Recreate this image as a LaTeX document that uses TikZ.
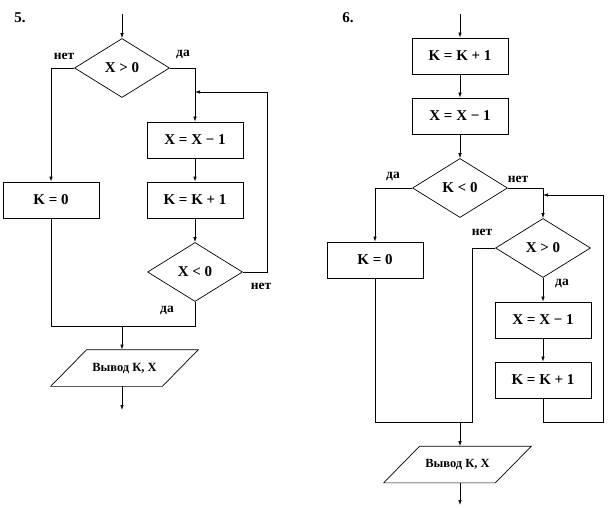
\documentclass[tikz,border=0pt]{standalone}
\usepackage{fontspec}
\setmainfont{Liberation Serif}
\usetikzlibrary{shapes.geometric,arrows.meta,positioning}

\begin{document}
\begin{tikzpicture}[x=1pt,y=-1pt,line width=0.7pt,>={Latex[length=5pt,width=3.5pt]},
   every node/.style={font=\bfseries},
   box/.style={draw,rectangle,minimum width=96pt,minimum height=36pt,inner sep=0pt,font=\fontsize{15}{17}\selectfont\bfseries},
   cond/.style={draw,diamond,aspect=1.6,minimum width=95pt,minimum height=59pt,inner sep=0pt,font=\fontsize{15}{17}\selectfont\bfseries},
   io/.style={rectangle,minimum width=111pt,minimum height=36pt,inner sep=0pt,font=\fontsize{12.5}{14}\selectfont\bfseries},
   lbl/.style={font=\fontsize{13.5}{15}\selectfont\bfseries,inner sep=0pt},
   title/.style={font=\fontsize{15}{17}\selectfont\bfseries,inner sep=0pt}]
   \useasboundingbox (0,0) rectangle (615,508);

   \node[title] (t5) at (20,18) {5.};
   \coordinate (s1) at (122,14);
   \node[cond] (d1) at (122,68) {X > 0};
   \node[box] (k0) at (51,200) {K = 0};
   \node[box] (x1) at (195,140) {X = X − 1};
   \node[box] (k1) at (195,200) {K = K + 1};
   \node[cond] (d2) at (195,272) {X < 0};
   \coordinate (l1) at (195,92);
   \coordinate (m1) at (122,326);
   \node[io] (o1) at (124.5,368) {Вывод К, Х};
   \draw ([xshift=-18pt]o1.south west) -- ([xshift=18pt]o1.north west) -- ([xshift=18pt]o1.north east) -- ([xshift=-18pt]o1.south east) -- cycle;
   \coordinate (e1) at (122,410);
   \node[lbl] (n1) at (64,56) {нет};
   \node[lbl] (y1) at (183,55) {да};
   \node[lbl] (n2) at (261,286) {нет};
   \node[lbl] (y2) at (167,311) {да};

   \draw[->] (s1) -- (d1);
   \draw[->] (d1.west) -| (k0.north);
   \draw[->] (d1.east) -| (x1.north);
   \draw[->] (x1) -- (k1);
   \draw[->] (k1) -- (d2);
   \draw[->] (d2.east) -- ++(24,0) |- (l1);
   \draw (d2.south) |- (m1);
   \draw (k0.south) |- (m1);
   \draw[->] (m1) -- (m1 |- o1.north);
   \draw[->] (o1.south -| m1) -- (e1);

   \node[title] (t6) at (348,18) {6.};
   \coordinate (s2) at (460,14);
   \node[box] (b1) at (460,56) {K = K + 1};
   \node[box] (b2) at (460,116) {X = X − 1};
   \node[cond] (d3) at (460,188) {K < 0};
   \node[box] (b3) at (375,260) {K = 0};
   \node[cond] (d4) at (543,248) {X > 0};
   \node[box] (b4) at (543,320) {X = X − 1};
   \node[box] (b5) at (543,380) {K = K + 1};
   \coordinate (l2) at (543,195);
   \coordinate (m2) at (460,422);
   \node[io] (o2) at (457.5,464.5) {Вывод К, Х};
   \draw ([xshift=-18pt]o2.south west) -- ([xshift=18pt]o2.north west) -- ([xshift=18pt]o2.north east) -- ([xshift=-18pt]o2.south east) -- cycle;
   \coordinate (e2) at (460,505);
   \node[lbl] (y3) at (393,177) {да};
   \node[lbl] (n3) at (518,179) {нет};
   \node[lbl] (n4) at (482,232) {нет};
   \node[lbl] (y4) at (562,284) {да};

   \draw[->] (s2) -- (b1);
   \draw[->] (b1) -- (b2);
   \draw[->] (b2) -- (d3);
   \draw[->] (d3.west) -| (b3.north);
   \draw[->] (d3.east) -| (d4.north);
   \draw[->] (d4.south) -- (b4);
   \draw[->] (b4) -- (b5);
   \draw[->] (b5.south) |- ++(60,24) |- (l2);
   \draw (d4.west) -- ++(-23,0) |- (m2);
   \draw (b3.south) |- (m2);
   \draw[->] (m2) -- (m2 |- o2.north);
   \draw[->] (o2.south -| m2) -- (e2);
\end{tikzpicture}
\end{document}
